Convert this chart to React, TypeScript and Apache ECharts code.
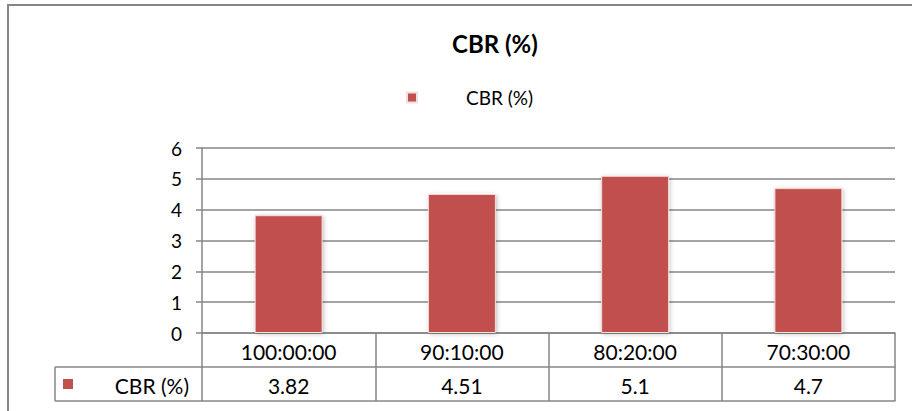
import React, { useEffect, useRef } from "react";
import * as echarts from "echarts";

const title = "CBR (%)";
const seriesName = "CBR (%)";
const categories = ["100:00:00", "90:10:00", "80:20:00", "70:30:00"];
const values = [3.82, 4.51, 5.1, 4.7];
const yMin = 0;
const yMax = 6;
const yStep = 1;

const FONT = "Lato, sans-serif";
const RED = "#C0504D";
const LINE = "#868686";

export default function App() {
  const ref = useRef<HTMLDivElement>(null);
  useEffect(() => {
    if (!ref.current) return;
    const chart = echarts.init(ref.current, null, { renderer: "svg" });
    const gLeft = 202, gRight = 17, gTop = 148, gBottom = 78;
    const axisY = 411 - gBottom; // 333
    const rowH = 34;
    const keyLeft = 55;
    chart.setOption({
      animation: false,
      backgroundColor: "#fff",
      title: {
        text: title,
        left: 452,
        top: 31,
        padding: 0,
        textStyle: { fontFamily: FONT, fontWeight: "bold", fontSize: 24, color: "#000" },
      },
      legend: {
        top: 88,
        left: 406,
        padding: 0,
        itemWidth: 10,
        itemHeight: 10,
        icon: "rect",
        data: [seriesName],
        textStyle: { fontFamily: FONT, fontSize: 19, color: "#000", padding: [0, 0, 0, 44] },
      },
      grid: { left: gLeft, right: gRight, top: gTop, bottom: gBottom, containLabel: false },
      xAxis: [
        {
          type: "category",
          data: categories,
          axisLine: { show: true, lineStyle: { color: LINE, width: 1.5 } },
          axisTick: { show: true, interval: 0, length: rowH * 2, lineStyle: { color: LINE, width: 1.5 } },
          axisLabel: { interval: 0, margin: 8, fontFamily: FONT, fontSize: 21, color: "#000" },
        },
        {
          type: "category",
          data: values.map((v) => String(v)),
          position: "bottom",
          offset: rowH,
          axisLine: { show: true, lineStyle: { color: LINE, width: 1.5 } },
          axisTick: { show: false },
          axisLabel: { interval: 0, margin: 8, fontFamily: FONT, fontSize: 21, color: "#000" },
        },
        {
          type: "category",
          data: categories,
          position: "bottom",
          offset: rowH * 2,
          axisLine: { show: true, lineStyle: { color: LINE, width: 1.5 } },
          axisTick: { show: false },
          axisLabel: { show: false },
        },
      ],
      yAxis: {
        type: "value",
        min: yMin,
        max: yMax,
        interval: yStep,
        axisLine: { show: true, lineStyle: { color: LINE, width: 1.5 } },
        axisTick: { show: true, length: 6, lineStyle: { color: LINE, width: 1.5 } },
        axisLabel: { margin: 20, fontFamily: FONT, fontSize: 19, color: "#000" },
        splitLine: { show: true, lineStyle: { color: LINE, width: 1.5 } },
      },
      series: [
        {
          name: seriesName,
          type: "bar",
          data: values,
          xAxisIndex: 0,
          barWidth: 68,
          itemStyle: {
            color: RED,
            borderColor: "#f4dede",
            borderWidth: 1,
            shadowBlur: 4,
            shadowColor: "rgba(0,0,0,0.25)",
            shadowOffsetX: 1,
            shadowOffsetY: 1,
          },
        },
      ],
      graphic: [
        {
          type: "rect",
          shape: { x: 8, y: 5, width: 940, height: 440 },
          style: { fill: "none", stroke: LINE, lineWidth: 2 },
          silent: true,
          z: 0,
        },
        {
          type: "line",
          shape: { x1: keyLeft, y1: axisY + rowH, x2: gLeft, y2: axisY + rowH },
          style: { stroke: LINE, lineWidth: 1.5 },
        },
        {
          type: "line",
          shape: { x1: keyLeft, y1: axisY + rowH * 2, x2: gLeft, y2: axisY + rowH * 2 },
          style: { stroke: LINE, lineWidth: 1.5 },
        },
        {
          type: "line",
          shape: { x1: keyLeft, y1: axisY + rowH, x2: keyLeft, y2: axisY + rowH * 2 },
          style: { stroke: LINE, lineWidth: 1.5 },
        },
        {
          type: "rect",
          shape: { x: 63, y: axisY + rowH + 12, width: 10, height: 10 },
          style: { fill: RED },
        },
        {
          type: "text",
          x: 189,
          y: axisY + rowH + rowH / 2 + 1,
          style: {
            text: seriesName,
            fontFamily: FONT,
            fontSize: 21,
            fill: "#000",
            align: "right",
            verticalAlign: "middle",
          },
        },
      ],
    });
    return () => chart.dispose();
  }, []);
  return (
    <div
      ref={ref}
      style={{ position: "fixed", left: 0, top: 0, width: 912, height: 411 }}
    />
  );
}
